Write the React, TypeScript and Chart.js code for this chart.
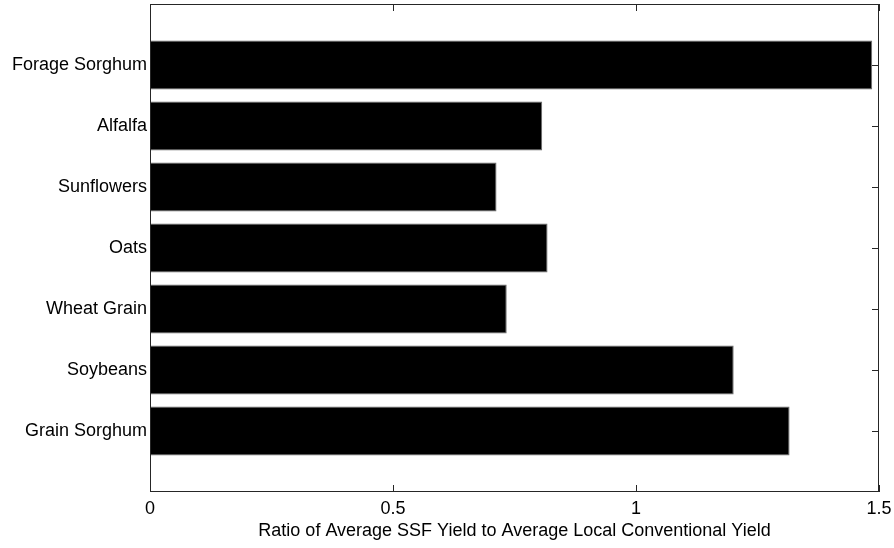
import React, { useEffect, useRef } from "react";
import { Chart, registerables } from "chart.js";

Chart.register(...registerables);

// Categories from bottom (position 1) to top (position 7)
const categories = [
  "Grain Sorghum",
  "Soybeans",
  "Wheat Grain",
  "Oats",
  "Sunflowers",
  "Alfalfa",
  "Forage Sorghum",
];
const values = [1.316, 1.201, 0.734, 0.818, 0.713, 0.807, 1.486];
const xTicks = [0, 0.5, 1, 1.5];
const xTickLabels = ["0", "0.5", "1", "1.5"];
const xTitle = "Ratio of Average SSF Yield to Average Local Conventional Yield";

const FONT = "'Liberation Sans', Arial, Helvetica, sans-serif";
const AXIS_COLOR = "#262626";

const framePlugin = {
  id: "matlabFrame",
  beforeDatasetsDraw(chart: any) {
    const { ctx, chartArea } = chart;
    const xs = chart.scales.x;
    const ys = chart.scales.y;
    const len = 7;
    ctx.save();
    ctx.strokeStyle = AXIS_COLOR;
    ctx.lineWidth = 1;
    ctx.beginPath();
    xTicks.forEach((v) => {
      const px = Math.round(xs.getPixelForValue(v)) + 0.5;
      ctx.moveTo(px, chartArea.bottom);
      ctx.lineTo(px, chartArea.bottom - len);
      ctx.moveTo(px, chartArea.top);
      ctx.lineTo(px, chartArea.top + len);
    });
    categories.forEach((_, i) => {
      const py = Math.round(ys.getPixelForValue(i + 1)) + 0.5;
      ctx.moveTo(chartArea.left, py);
      ctx.lineTo(chartArea.left + len, py);
      ctx.moveTo(chartArea.right, py);
      ctx.lineTo(chartArea.right - len, py);
    });
    ctx.stroke();
    ctx.restore();
  },
  afterDatasetsDraw(chart: any) {
    const { ctx, chartArea } = chart;
    ctx.save();
    ctx.strokeStyle = AXIS_COLOR;
    ctx.lineWidth = 1;
    const l = Math.round(chartArea.left) + 0.5;
    const r = Math.round(chartArea.right) - 0.5;
    const t = Math.round(chartArea.top) + 0.5;
    const b = Math.round(chartArea.bottom) - 0.5;
    ctx.strokeRect(l, t, r - l, b - t);
    ctx.restore();
  },
};

export default function App() {
  const ref = useRef<HTMLCanvasElement | null>(null);

  useEffect(() => {
    if (!ref.current) return;
    const chart = new Chart(ref.current, {
      type: "bar",
      data: {
        datasets: [
          {
            data: categories.map((c, i) => ({ x: values[i], y: i + 1 })),
            backgroundColor: "#000000",
            borderColor: "#6a6a6a",
            borderWidth: 1,
            barPercentage: 0.8,
            categoryPercentage: 1,
          } as any,
        ],
      },
      options: {
        indexAxis: "y",
        animation: false,
        responsive: false,
        maintainAspectRatio: false,
        layout: { padding: { top: 4, right: 15, left: 0, bottom: 0 } },
        plugins: {
          legend: { display: false },
          tooltip: { enabled: false },
        },
        scales: {
          x: {
            type: "linear",
            min: 0,
            max: 1.5,
            offset: false,
            afterBuildTicks: (s: any) => {
              s.ticks = xTicks.map((v) => ({ value: v }));
            },
            afterFit: (s: any) => {
              s.height = 56;
              s.paddingLeft = 0;
              s.paddingRight = 0;
            },
            ticks: {
              autoSkip: false,
              maxRotation: 0,
              padding: 6,
              color: "#000",
              font: { family: FONT, size: 18 },
              callback: (v: any) => {
                const idx = xTicks.indexOf(Number(v));
                return idx >= 0 ? xTickLabels[idx] : "";
              },
            },
            grid: { display: false, drawTicks: false },
            border: { display: false },
            title: {
              display: true,
              text: xTitle,
              color: "#000",
              font: { family: FONT, size: 18 },
              padding: { top: 4, bottom: 6 },
            },
          },
          y: {
            type: "linear",
            min: 0,
            max: 8,
            offset: false,
            afterBuildTicks: (s: any) => {
              s.ticks = categories.map((_, i) => ({ value: i + 1 }));
            },
            afterFit: (s: any) => {
              s.width = 150;
              s.paddingTop = 0;
              s.paddingBottom = 0;
            },
            ticks: {
              autoSkip: false,
              padding: 3,
              color: "#000",
              font: { family: FONT, size: 18 },
              callback: (v: any) => categories[Number(v) - 1] ?? "",
            },
            grid: { display: false, drawTicks: false },
            border: { display: false },
          },
        },
      },
      plugins: [framePlugin],
    });
    return () => chart.destroy();
  }, []);

  return (
    <div style={{ position: "fixed", left: 0, top: 0, width: 894, height: 548, background: "#fff" }}>
      <canvas ref={ref} width={894} height={548} style={{ display: "block" }} />
    </div>
  );
}
